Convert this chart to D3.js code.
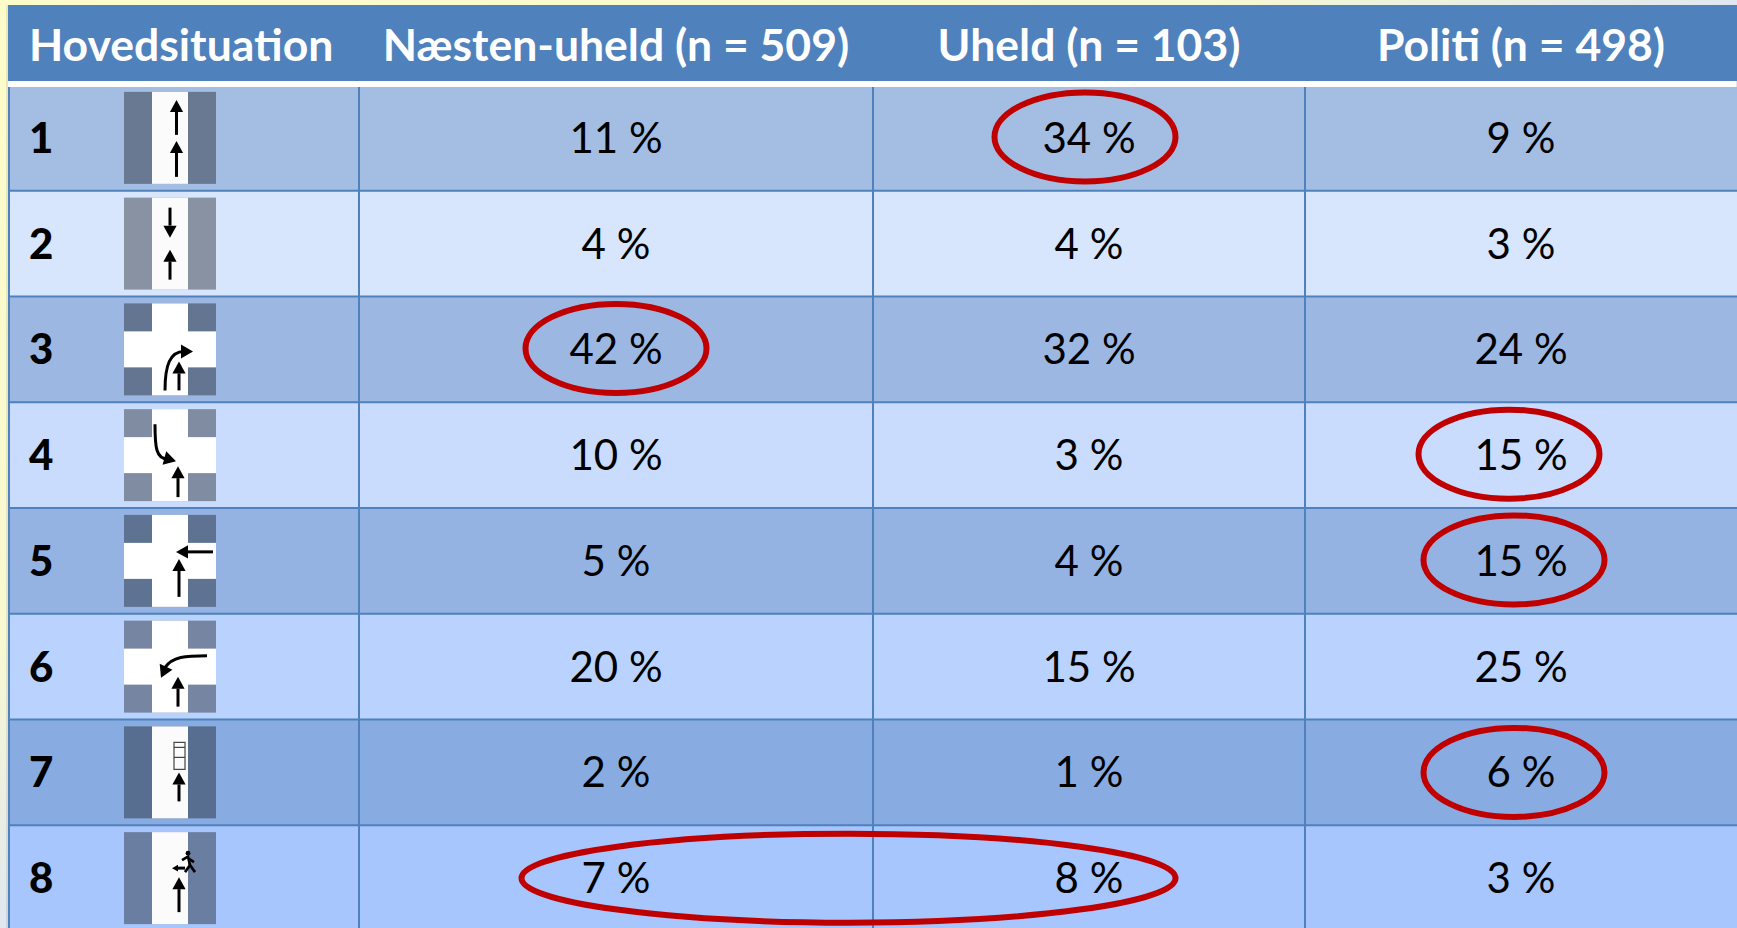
<!DOCTYPE html>
<html>
<head>
<meta charset="utf-8">
<script src="https://cdn.jsdelivr.net/npm/d3@7"></script>
<style>
html, body { margin: 0; padding: 0; overflow: hidden; background: #fff; }
svg { display: block; }
text { font-family: Lato, "Noto Sans", sans-serif; }
</style>
</head>
<body>
<svg id="tablesvg" width="1737" height="928"></svg>
<script>
// data
var rows = ["1", "2", "3", "4", "5", "6", "7", "8"];
var columns = ["Næsten-uheld (n = 509)", "Uheld (n = 103)", "Politi (n = 498)"];
var firstHeader = "Hovedsituation";
var naestenUheld = [11, 4, 42, 10, 5, 20, 2, 7];
var uheld = [34, 4, 32, 3, 4, 15, 1, 8];
var politi = [9, 3, 24, 15, 15, 25, 6, 3];
var icons = ["straight", "opposing", "rightTurn", "fromLeft", "fromRight", "leftTurn", "parked", "pedestrian"];
// which cells got a red ring: row, first column, last column
var ringRows = ["1", "3", "4", "5", "7", "8"];
var ringFrom = [1, 0, 2, 2, 2, 0];
var ringTo = [1, 0, 2, 2, 2, 1];

var rowColors = ["#a4bde3", "#d7e5fd", "#9cb8e2", "#c9dcfd", "#94b3e3", "#b9d2fe", "#88ace1", "#a7c6fd"];
var lineColor = "#4f81bd";
var ringColor = "#c00000";

var svg = d3.select("#tablesvg");
var width = 1737, height = 928;
var tableLeft = 9, headerTop = 5, headerBottom = 81;

var defs = svg.append("defs");
var bg = defs.append("linearGradient").attr("id", "bg")
	.attr("x1", 0).attr("y1", 0).attr("x2", 1).attr("y2", 1);
bg.append("stop").attr("offset", "0%").attr("stop-color", "#fdfcc9");
bg.append("stop").attr("offset", "35%").attr("stop-color", "#f8f8d2");
bg.append("stop").attr("offset", "50%").attr("stop-color", "#dfe8f0");
bg.append("stop").attr("offset", "100%").attr("stop-color", "#dbe5f1");

svg.append("rect").attr("width", width).attr("height", height).attr("fill", "url(#bg)");
// soft shadow down the left side of the table
svg.append("rect").attr("x", 6).attr("y", 5).attr("width", 2).attr("height", height)
	.attr("fill", "#000").attr("opacity", 0.08);

var y = d3.scaleBand().domain(rows).range([85, 931]);
var colEdges = [359, 873, 1305, 1737];
var x = d3.scaleOrdinal().domain(columns).range(columns.map(function(c, i) {
	return (colEdges[i] + colEdges[i + 1]) / 2;
}));

// header
svg.append("rect")
	.attr("x", tableLeft - 1).attr("y", headerTop)
	.attr("width", width - tableLeft + 1).attr("height", headerBottom - headerTop)
	.attr("fill", lineColor);
svg.append("rect")
	.attr("x", tableLeft - 1).attr("y", headerBottom)
	.attr("width", width - tableLeft).attr("height", 6)
	.attr("fill", "#fff");

svg.append("text")
	.attr("x", 29).attr("y", 61)
	.attr("font-size", 44.5).attr("font-weight", 700).attr("fill", "#fff")
	.text(firstHeader);
svg.selectAll(".colhead")
	.data(columns)
	.enter()
	.append("text")
	.attr("class", "colhead")
	.attr("x", function(d) { return x(d); })
	.attr("y", 61)
	.attr("text-anchor", "middle")
	.attr("font-size", 44.5).attr("font-weight", 700).attr("fill", "#fff")
	.text(function(d) { return d; });

// rows
svg.selectAll(".rowbg")
	.data(rows)
	.enter()
	.append("rect")
	.attr("class", "rowbg")
	.attr("x", tableLeft)
	.attr("y", function(d) { return d == "1" ? 87 : y(d); })
	.attr("width", width - tableLeft)
	.attr("height", function(d) { return d == "1" ? y.bandwidth() - 2 : y.bandwidth(); })
	.attr("fill", function(d, i) { return rowColors[i]; });

// grid lines
svg.selectAll(".hline")
	.data(rows.slice(1))
	.enter()
	.append("line")
	.attr("class", "hline")
	.attr("x1", tableLeft).attr("x2", width)
	.attr("y1", function(d) { return y(d); })
	.attr("y2", function(d) { return y(d); })
	.attr("stroke", lineColor).attr("stroke-width", 2);
svg.selectAll(".vline")
	.data([tableLeft, colEdges[0], colEdges[1], colEdges[2]])
	.enter()
	.append("line")
	.attr("class", "vline")
	.attr("x1", function(d) { return d; })
	.attr("x2", function(d) { return d; })
	.attr("y1", 87).attr("y2", height)
	.attr("stroke", lineColor).attr("stroke-width", 2);

// row numbers
svg.selectAll(".rowlabel")
	.data(rows)
	.enter()
	.append("text")
	.attr("class", "rowlabel")
	.attr("x", 29)
	.attr("y", function(d) { return y(d) + y.bandwidth() / 2 + 15; })
	.attr("font-size", 42).attr("font-weight", 900).attr("fill", "#000")
	.text(function(d) { return d; });

// values
var series = [naestenUheld, uheld, politi];
series.forEach(function(values, c) {
	svg.selectAll(".val" + c)
		.data(values)
		.enter()
		.append("text")
		.attr("class", "val" + c)
		.attr("x", x(columns[c]))
		.attr("y", function(d, i) { return y(rows[i]) + y.bandwidth() / 2 + 15; })
		.attr("text-anchor", "middle")
		.attr("font-size", 42).attr("fill", "#000")
		.text(function(d) { return d + " %"; });
});

// icons, local coordinates are a 92 x 92 box
function drawRoad(g, crossing) {
	g.append("rect").attr("width", 92).attr("height", 92).attr("fill", "rgba(0,0,0,0.36)");
	if (crossing) {
		g.append("rect").attr("x", 28).attr("width", 36).attr("height", 92).attr("fill", "#fff");
		g.append("rect").attr("y", 28).attr("width", 92).attr("height", 36).attr("fill", "#fff");
	} else {
		g.append("rect").attr("x", 28).attr("width", 36).attr("height", 92).attr("fill", "#fbfbfb");
	}
}

// arrow from tail to tip with triangular head
function arrow(g, x1, y1, x2, y2, head) {
	head = head || 12;
	var a = Math.atan2(y2 - y1, x2 - x1);
	var bx = x2 - head * Math.cos(a), by = y2 - head * Math.sin(a);
	g.append("line").attr("x1", x1).attr("y1", y1).attr("x2", bx).attr("y2", by)
		.attr("stroke", "#000").attr("stroke-width", 3);
	var w = head * 0.55;
	g.append("path")
		.attr("d", "M" + x2 + "," + y2 +
			"L" + (bx - w * Math.sin(a)) + "," + (by + w * Math.cos(a)) +
			"L" + (bx + w * Math.sin(a)) + "," + (by - w * Math.cos(a)) + "Z")
		.attr("fill", "#000");
}

function curve(g, d, tipx, tipy, angle) {
	g.append("path").attr("d", d).attr("fill", "none").attr("stroke", "#000").attr("stroke-width", 3);
	g.append("path").attr("d", "M0,0L-12,-7L-12,7Z")
		.attr("transform", "translate(" + tipx + "," + tipy + ") rotate(" + angle + ")")
		.attr("fill", "#000");
}

var iconDraw = {
	straight: function(g) {
		drawRoad(g, false);
		arrow(g, 52.5, 43, 52.5, 8);
		arrow(g, 52.5, 85, 52.5, 49);
	},
	opposing: function(g) {
		drawRoad(g, false);
		arrow(g, 46, 10, 46, 40);
		arrow(g, 46, 82, 46, 52);
	},
	rightTurn: function(g) {
		drawRoad(g, true);
		curve(g, "M41,87C41,62 46,48 60,48", 69, 48, 0);
		arrow(g, 55, 87, 55, 58);
	},
	fromLeft: function(g) {
		drawRoad(g, true);
		curve(g, "M31,15C31,38 32,50 44,50", 52, 52, 15);
		arrow(g, 54, 88, 54, 57);
	},
	fromRight: function(g) {
		drawRoad(g, true);
		arrow(g, 89, 37, 52, 37);
		arrow(g, 55, 82, 55, 44);
	},
	leftTurn: function(g) {
		drawRoad(g, true);
		curve(g, "M83,35C62,35 48,36 41,47", 37, 57, 115);
		arrow(g, 54, 86, 54, 56);
	},
	parked: function(g) {
		drawRoad(g, false);
		g.append("rect").attr("x", 50).attr("y", 16).attr("width", 11).attr("height", 27)
			.attr("fill", "none").attr("stroke", "#444").attr("stroke-width", 1.2);
		g.append("line").attr("x1", 50).attr("x2", 61).attr("y1", 21).attr("y2", 21).attr("stroke", "#444").attr("stroke-width", 1.2);
		g.append("line").attr("x1", 50).attr("x2", 61).attr("y1", 31).attr("y2", 31).attr("stroke", "#444").attr("stroke-width", 1.2);
		arrow(g, 55, 75, 55, 46);
	},
	pedestrian: function(g) {
		drawRoad(g, false);
		arrow(g, 55, 80, 55, 45);
		arrow(g, 61, 36, 48, 36, 6);
		g.append("circle").attr("cx", 64).attr("cy", 21).attr("r", 2.4).attr("fill", "#000");
		g.append("path")
			.attr("d", "M58,28L64,24.5L66,33L71,40M66,33L61,40M64,26L70,30")
			.attr("fill", "none").attr("stroke", "#000").attr("stroke-width", 2.6);
	}
};

rows.forEach(function(r, i) {
	var g = svg.append("g")
		.attr("class", "icon")
		.attr("transform", "translate(124," + (y(r) + y.bandwidth() / 2 - 46) + ")");
	iconDraw[icons[i]](g);
});

// red rings, offset from the cells they mark
var ringDx = [-4, 0, -12, -7, -7, -4];
var ringDy = [-1, -1, -1, -1, 0, 0];
svg.selectAll(".ring")
	.data(ringRows)
	.enter()
	.append("ellipse")
	.attr("class", "ring")
	.attr("cx", function(d, i) {
		return (x(columns[ringFrom[i]]) + x(columns[ringTo[i]])) / 2 + ringDx[i];
	})
	.attr("cy", function(d, i) { return y(d) + y.bandwidth() / 2 + ringDy[i]; })
	.attr("rx", function(d, i) {
		return (x(columns[ringTo[i]]) - x(columns[ringFrom[i]])) / 2 + 90.5;
	})
	.attr("ry", 44.5)
	.attr("fill", "none")
	.attr("stroke", ringColor)
	.attr("stroke-width", 6);
</script>
</body>
</html>
